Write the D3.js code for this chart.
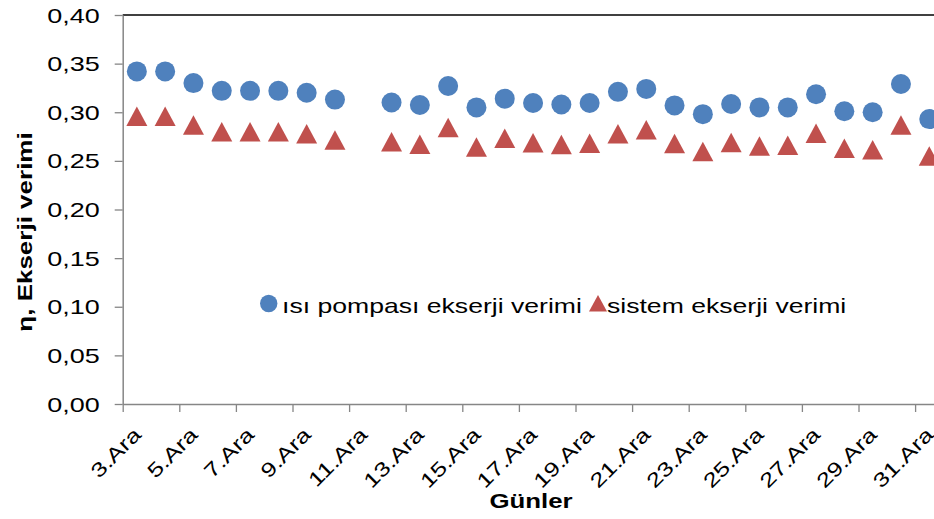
<!DOCTYPE html>
<html>
<head>
<meta charset="utf-8">
<script src="https://cdn.jsdelivr.net/npm/d3@7/dist/d3.min.js"></script>
<style>
  html, body { margin: 0; padding: 0; background: #fff; }
  svg { display: block; font-family: "Liberation Sans", Arial, sans-serif; }
</style>
</head>
<body>
<svg id="chart" width="934" height="519"></svg>
<script>
// December days (Ara = Aralık)
const days = ["3.Ara","4.Ara","5.Ara","6.Ara","7.Ara","8.Ara","9.Ara","10.Ara","11.Ara","12.Ara",
  "13.Ara","14.Ara","15.Ara","16.Ara","17.Ara","18.Ara","19.Ara","20.Ara","21.Ara","22.Ara",
  "23.Ara","24.Ara","25.Ara","26.Ara","27.Ara","28.Ara","29.Ara","30.Ara","31.Ara"];

// Heat pump exergy efficiency (no measurement on 11.Ara)
const heatPumpEff = [0.342,0.342,0.330,0.322,0.322,0.322,0.320,0.313,null,0.310,
  0.3075,0.327,0.305,0.314,0.3095,0.308,0.3095,0.321,0.324,0.307,
  0.298,0.3085,0.305,0.305,0.3185,0.301,0.300,0.329,0.293];

// Overall system exergy efficiency
const systemEff = [0.296,0.296,0.287,0.280,0.280,0.280,0.278,0.2715,null,0.2697,
  0.2672,0.2842,0.2643,0.2732,0.2687,0.2668,0.2682,0.2778,0.282,0.2679,
  0.2596,0.2689,0.2653,0.266,0.2783,0.2629,0.2614,0.2869,0.255];

const yTicks = [0, 0.05, 0.10, 0.15, 0.20, 0.25, 0.30, 0.35, 0.40];
const xTickLabels = days.filter((d, i) => i % 2 === 0);

const seriesNames = ["ısı pompası ekserji verimi", "sistem ekserji verimi"];
const yTitle = "η, Ekserji verimi";
const xTitle = "Günler";

const svg = d3.select("#chart");
const plot = { left: 122.7, right: 943.4, top: 15, bottom: 404 };
const axisGrey = "#868686";
const blue = "#4F81BD", red = "#C0504D";

// Category positions: one band per day, ticks on band edges
const x = d3.scaleLinear().domain([0, days.length]).range([plot.left, plot.right]);
const y = d3.scaleLinear().domain([0, 0.40]).range([plot.bottom, plot.top]);

const trLocale = d3.formatLocale({ decimal: ",", thousands: ".", grouping: [3], currency: ["", " TL"] });
const fmt = trLocale.format(".2f");

// Frame: top border of the plot area
svg.append("line")
  .attr("x1", plot.left).attr("x2", plot.right)
  .attr("y1", plot.top).attr("y2", plot.top)
  .attr("stroke", "#000").attr("stroke-width", 1.3);

// Y axis
const yAxis = svg.append("g")
  .attr("transform", `translate(${plot.left},0)`)
  .call(d3.axisLeft(y).tickValues(yTicks).tickFormat(fmt).tickSize(8).tickSizeOuter(0));
yAxis.select(".domain").attr("stroke", axisGrey).attr("stroke-width", 1.5);
yAxis.selectAll(".tick line").attr("stroke", axisGrey).attr("stroke-width", 1.3);
yAxis.selectAll(".tick text")
  .attr("x", null).attr("dy", "0.35em")
  .attr("text-anchor", "end")
  .attr("font-size", 20).attr("fill", "#000")
  .attr("transform", "translate(-23,0) scale(1.35,1)");

// X axis
const tickIdx = xTickLabels.map(l => days.indexOf(l));
const xAxis = svg.append("g")
  .attr("transform", `translate(0,${plot.bottom})`)
  .call(d3.axisBottom(x).tickValues(tickIdx).tickFormat(i => days[i]).tickSize(8).tickSizeOuter(0));
xAxis.select(".domain").attr("stroke", axisGrey).attr("stroke-width", 1.5);
xAxis.selectAll(".tick line").attr("stroke", axisGrey).attr("stroke-width", 1.3);
xAxis.selectAll(".tick text")
  .attr("y", null).attr("dy", null)
  .attr("text-anchor", "end")
  .attr("font-size", 20).attr("fill", "#000")
  .attr("transform", "translate(19,32) rotate(-45) scale(1.28,1)");

// Data points
const idx = d3.range(days.length);
const cx = i => x(i + 0.5);

svg.append("g").selectAll("circle")
  .data(idx.filter(i => heatPumpEff[i] != null))
  .join("circle")
  .attr("cx", cx)
  .attr("cy", i => y(heatPumpEff[i]))
  .attr("r", 10)
  .attr("fill", blue);

const triW = 21, triH = 19.5;
const triPath = `M0,${-triH / 2}L${triW / 2},${triH / 2}L${-triW / 2},${triH / 2}Z`;
svg.append("g").selectAll("path")
  .data(idx.filter(i => systemEff[i] != null))
  .join("path")
  .attr("d", triPath)
  .attr("transform", i => `translate(${cx(i)},${y(systemEff[i])})`)
  .attr("fill", red);

// Legend
const legend = svg.append("g").attr("transform", "translate(0,303.5)");
legend.append("circle").attr("cx", 268.7).attr("cy", 0).attr("r", 8.7).attr("fill", blue);
legend.append("text").attr("font-size", 20).attr("fill", "#000")
  .attr("y", 9.5)
  .attr("transform", "translate(282,0) scale(1.33,1)")
  .text(seriesNames[0]);
legend.append("path")
  .attr("d", "M0,-8.5L9,8L-9,8Z")
  .attr("transform", "translate(598,0)")
  .attr("fill", red);
legend.append("text").attr("font-size", 20).attr("fill", "#000")
  .attr("y", 9.5)
  .attr("transform", "translate(607,0) scale(1.33,1)")
  .text(seriesNames[1]);

// Axis titles
svg.append("text")
  .attr("font-size", 20).attr("font-weight", "bold").attr("fill", "#000")
  .attr("text-anchor", "middle")
  .attr("transform", "translate(32,232) rotate(-90) scale(1.3,1)")
  .text(yTitle);

svg.append("text")
  .attr("font-size", 21).attr("font-weight", "bold").attr("fill", "#000")
  .attr("text-anchor", "middle")
  .attr("transform", "translate(531,508) scale(1.23,1)")
  .text(xTitle);
</script>
</body>
</html>
